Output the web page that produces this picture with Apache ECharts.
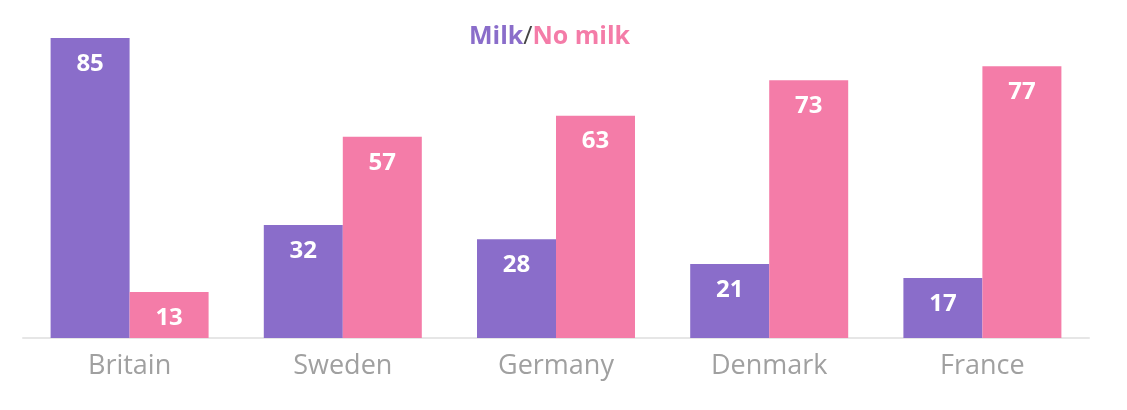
<!DOCTYPE html>
<html><head><meta charset="utf-8">
<script src="https://cdn.jsdelivr.net/npm/echarts@6/dist/echarts.min.js"></script>
<style>html,body{margin:0;padding:0;background:#fff}#c{width:1127px;height:410px}</style>
</head><body><div id="c"></div>
<script>
const categories = ['Britain', 'Sweden', 'Germany', 'Denmark', 'France'];
const milk = [85, 32, 28, 21, 17];
const noMilk = [13, 57, 63, 73, 77];

const chart = echarts.init(document.getElementById('c'));
const lbl = {show: true, position: 'insideTop', distance: 14, color: '#fff', fontFamily: 'Open Sans', fontWeight: 'bold', fontSize: 24};
chart.setOption({
  animation: false,
  title: {
    text: '{a|Milk}{b|/}{c|No milk}',
    left: 464, top: 19,
    textStyle: {rich: {
      a: {color: '#8a6dca', fontFamily: 'Open Sans', fontWeight: 'bold', fontSize: 25},
      b: {color: '#444', fontFamily: 'Open Sans', fontWeight: 'normal', fontSize: 25},
      c: {color: '#f47ca8', fontFamily: 'Open Sans', fontWeight: 'bold', fontSize: 25}
    }}
  },
  grid: {left: 23, right: 38, top: 38, bottom: 72, containLabel: false},
  xAxis: {
    type: 'category', data: categories,
    axisLine: {lineStyle: {color: '#e6e6e6', width: 2}},
    axisTick: {show: false},
    axisLabel: {color: '#a0a0a0', fontFamily: 'Open Sans', fontSize: 27, margin: 15}
  },
  yAxis: {type: 'value', min: 0, max: 85, show: false, splitLine: {show: false}},
  series: [
    {name: 'Milk', type: 'bar', data: milk, barWidth: 79, barGap: '0%', itemStyle: {color: '#8a6dca'}, label: lbl},
    {name: 'No milk', type: 'bar', data: noMilk, barWidth: 79, itemStyle: {color: '#f47ca8'}, label: lbl}
  ]
});
</script></body></html>
